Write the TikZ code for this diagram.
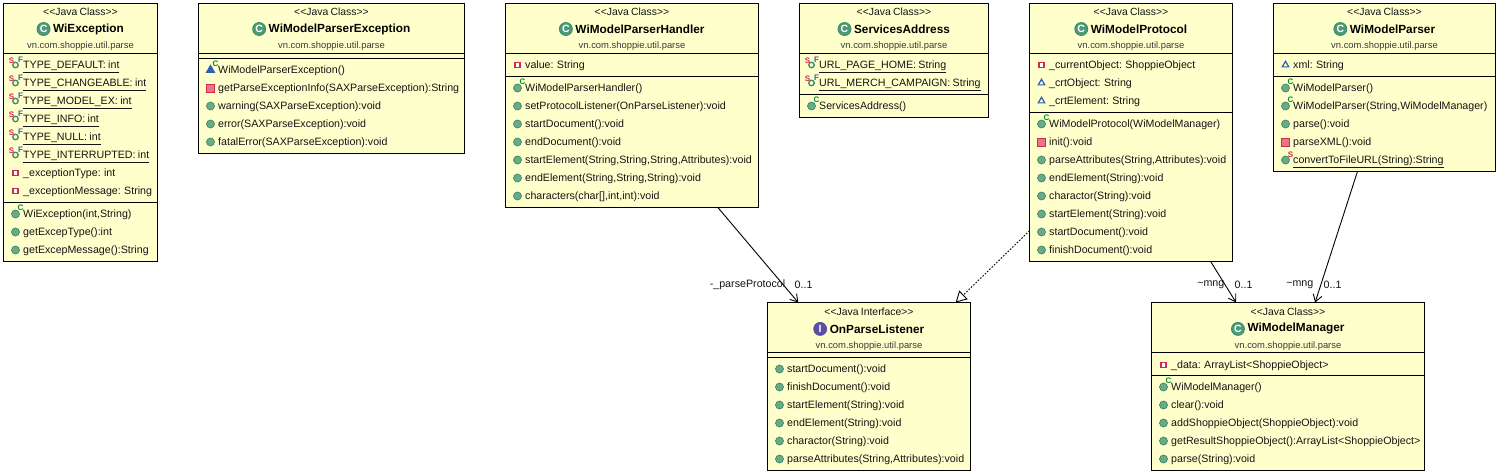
\documentclass[tikz,border=0pt]{standalone}
\usepackage{fontspec}
\setmainfont{Liberation Sans}[WordSpace=0.8]
\usetikzlibrary{positioning,arrows.meta,shapes.geometric}
\definecolor{umlfill}{HTML}{FFFFCC}
\definecolor{umltext}{HTML}{141414}
\definecolor{pkgtext}{HTML}{383838}
\definecolor{pubgreen}{HTML}{6BAA86}
\definecolor{pubedge}{HTML}{3A8A68}
\definecolor{classgreen}{HTML}{4E9A78}
\definecolor{ifacepurple}{HTML}{5B4FA5}
\definecolor{markgreen}{HTML}{008A3C}
\definecolor{privred}{HTML}{CE2C4C}
\definecolor{privfill}{HTML}{E8758A}
\definecolor{defblue}{HTML}{2A62B0}
\tikzset{
  class box/.style={rectangle,draw=black,fill=umlfill,line width=1pt,inner sep=0pt,outer sep=0pt},
  sep line/.style={line width=1pt},
  stereo text/.style={font=\fontsize{10.4}{12}\selectfont,text=umltext,inner sep=0pt},
  title text/.style={font=\fontsize{11.8}{14}\selectfont\bfseries,text=black,inner sep=0pt},
  pkg text/.style={font=\fontsize{9.4}{11}\selectfont,text=pkgtext,inner sep=0pt},
  row text/.style={font=\fontsize{10.65}{12}\selectfont,text=umltext,anchor=west,inner sep=0pt,text height=8pt,text depth=2pt},
  role text/.style={font=\fontsize{10.7}{12}\selectfont,text=umltext,inner sep=0pt},
  classicon/.style={circle,fill=classgreen,draw=pubedge,line width=.8pt,minimum size=13pt,inner sep=0pt,text=white,font=\fontsize{10.5}{10}\selectfont\bfseries},
  ifaceicon/.style={classicon,fill=ifacepurple,draw=ifacepurple},
  markC/.style={anchor=center,inner sep=0pt,text=markgreen,font=\fontsize{8}{8}\selectfont\bfseries},
  markS/.style={anchor=center,inner sep=0pt,text=privred,font=\fontsize{8}{8}\selectfont\bfseries},
  markF/.style={anchor=center,inner sep=0pt,text=defblue,font=\fontsize{8}{8}\selectfont\bfseries},
  pubdot/.style={circle,fill=pubgreen,draw=pubedge,line width=.7pt,minimum size=8pt,inner sep=0pt},
  ctordot/.style={pubdot,label={[markC,xshift=5pt,yshift=6pt]center:C}},
  statdot/.style={pubdot,label={[markS,xshift=5pt,yshift=5pt]center:S}},
  sfdot/.style={circle,fill=umlfill,draw=pubedge,line width=1.3pt,minimum size=5.5pt,inner sep=0pt,
    label={[markS,xshift=-4pt,yshift=4.5pt]center:S},label={[markF,xshift=5pt,yshift=5pt]center:F}},
  privfield/.style={rectangle,fill=white,draw=privred,line width=1.3pt,minimum size=5pt,inner sep=0pt},
  privmeth/.style={rectangle,fill=privfill,draw=privred,line width=.9pt,minimum size=8pt,inner sep=0pt},
  deffield/.style={regular polygon,regular polygon sides=3,fill=umlfill,draw=defblue,line width=1.2pt,minimum size=7.5pt,inner sep=0pt},
  protctor/.style={regular polygon,regular polygon sides=3,fill=defblue,draw=defblue,line width=.6pt,minimum size=10pt,inner sep=0pt,
    label={[markC,xshift=5pt,yshift=6pt]center:C}},
  assoc/.style={line width=.9pt,-{Straight Barb[length=7pt,width=9pt]}},
  realize/.style={line width=.9pt,dash pattern=on 1.6pt off 1.6pt,-{Triangle[open,length=11pt,width=12pt,fill=white]}},
}
\newcommand{\classrows}[3]{%
  \foreach [count=\n] \y/\ic/\lbl in {#3} {
    \node[\ic] (#1-I\n) at (#2-8,\y+.5) {};
    \node[row text] (#1-R\n) at (#2-.5,\y+.7) {\lbl};
  }
}
\begin{document}
\begin{tikzpicture}[x=1pt,y=-1pt]
\useasboundingbox (0,0) rectangle (1498,474);
\begin{scope}[shift={(.5,.5)}]
% id / centre x / top / width / height / first and second rule / kind / icon / letter / title
\foreach \id/\cx/\ty/\w/\h/\ya/\yb/\kind/\kstyle/\kch/\name in {
  wiException/80/3/154/258/53/202/Class/classicon/C/WiException,
  parserException/331/3/266/150/53/58/Class/classicon/C/WiModelParserException,
  parserHandler/631.5/3/253/204/53/76/Class/classicon/C/WiModelParserHandler,
  servicesAddress/893.5/3/189/114/53/94/Class/classicon/C/ServicesAddress,
  modelProtocol/1130.5/3/203/258/53/112/Class/classicon/C/WiModelProtocol,
  modelParser/1384/3/222/168/53/76/Class/classicon/C/WiModelParser,
  parseListener/868.5/302/203/168/352/357/Interface/ifaceicon/I/OnParseListener,
  modelManager/1287.5/302/273/168/352/375/Class/classicon/C/WiModelManager} {
  \node[class box,minimum width=\w pt,minimum height=\h pt] (\id) at (\cx,\ty+\h/2) {};
  \node[stereo text] (\id-S) at (\cx,\ty+8.2+\ty*.003) {<{}<Java \kind>{}>};
  \node[title text] (\id-T) at (\cx+8,\ty+25.5+\ty*.003) {\name};
  \node[\kstyle,left=2.5pt of \id-T] (\id-K) {\kch};
  \node[pkg text] (\id-P) at (\cx,\ty+42.3+\ty*.003) {vn.com.shoppie.util.parse};
  \draw[sep line] (\id.west |- 0,\ya) -- (\id.east |- 0,\ya);
  \draw[sep line] (\id.west |- 0,\yb) -- (\id.east |- 0,\yb);
}
\classrows{wiException}{23}{
  64/sfdot/{\underline{TYPE\_DEFAULT: int}},
  82/sfdot/{\underline{TYPE\_CHANGEABLE: int}},
  100/sfdot/{\underline{TYPE\_MODEL\_EX: int}},
  118/sfdot/{\underline{TYPE\_INFO: int}},
  136/sfdot/{\underline{TYPE\_NULL: int}},
  154/sfdot/{\underline{TYPE\_INTERRUPTED: int}},
  172/privfield/{\_exceptionType: int},
  190/privfield/{\_exceptionMessage: String},
  213/ctordot/{WiException(int,String)},
  231/pubdot/{getExcepType():int},
  249/pubdot/{getExcepMessage():String}}
\classrows{parserException}{218}{
  69/protctor/{WiModelParserException()},
  87/privmeth/{getParseExceptionInfo(SAXParseException):String},
  105/pubdot/{warning(SAXParseException):void},
  123/pubdot/{error(SAXParseException):void},
  141/pubdot/{fatalError(SAXParseException):void}}
\classrows{parserHandler}{525}{
  64/privfield/{value: String},
  87/ctordot/{WiModelParserHandler()},
  105/pubdot/{setProtocolListener(OnParseListener):void},
  123/pubdot/{startDocument():void},
  141/pubdot/{endDocument():void},
  159/pubdot/{startElement(String,String,String,Attributes):void},
  177/pubdot/{endElement(String,String,String):void},
  195/pubdot/{characters(char[],int,int):void}}
\classrows{servicesAddress}{819}{
  64/sfdot/{\underline{URL\_PAGE\_HOME: String}},
  82/sfdot/{\underline{URL\_MERCH\_CAMPAIGN: String}},
  105/ctordot/{ServicesAddress()}}
\classrows{modelProtocol}{1049}{
  64/privfield/{\_currentObject: ShoppieObject},
  82/deffield/{\_crtObject: String},
  100/deffield/{\_crtElement: String},
  123/ctordot/{WiModelProtocol(WiModelManager)},
  141/privmeth/{init():void},
  159/pubdot/{parseAttributes(String,Attributes):void},
  177/pubdot/{endElement(String):void},
  195/pubdot/{charactor(String):void},
  213/pubdot/{startElement(String):void},
  231/pubdot/{startDocument():void},
  249/pubdot/{finishDocument():void}}
\classrows{modelParser}{1293}{
  64/deffield/{xml: String},
  87/ctordot/{WiModelParser()},
  105/ctordot/{WiModelParser(String,WiModelManager)},
  123/pubdot/{parse():void},
  141/privmeth/{parseXML():void},
  159/statdot/{\underline{convertToFileURL(String):String}}}
\classrows{parseListener}{787}{
  368/pubdot/{startDocument():void},
  386/pubdot/{finishDocument():void},
  404/pubdot/{startElement(String):void},
  422/pubdot/{endElement(String):void},
  440/pubdot/{charactor(String):void},
  458/pubdot/{parseAttributes(String,Attributes):void}}
\classrows{modelManager}{1171}{
  364/privfield/{\_data: ArrayList<ShoppieObject>},
  386/ctordot/{WiModelManager()},
  404/pubdot/{clear():void},
  422/pubdot/{addShoppieObject(ShoppieObject):void},
  440/pubdot/{getResultShoppieObject():ArrayList<ShoppieObject>},
  458/pubdot/{parse(String):void}}
\draw[assoc] (parserHandler) -- (parseListener);
\draw[realize] (modelProtocol) -- (parseListener);
\draw[assoc] (modelProtocol) -- (modelManager);
\draw[assoc] (modelParser) -- (modelManager);
\node[role text,anchor=east] (handlerRole) at (785,284) {-\_parseProtocol};
\node[role text,anchor=west] (handlerMult) at (794,284) {0..1};
\node[role text,anchor=east] (protocolRole) at (1224,284) {\textasciitilde mng};
\node[role text,anchor=west] (protocolMult) at (1234,284) {0..1};
\node[role text,anchor=east] (parserRole) at (1313,284) {\textasciitilde mng};
\node[role text,anchor=west] (parserMult) at (1323,284) {0..1};
\end{scope}
\end{tikzpicture}
\end{document}
